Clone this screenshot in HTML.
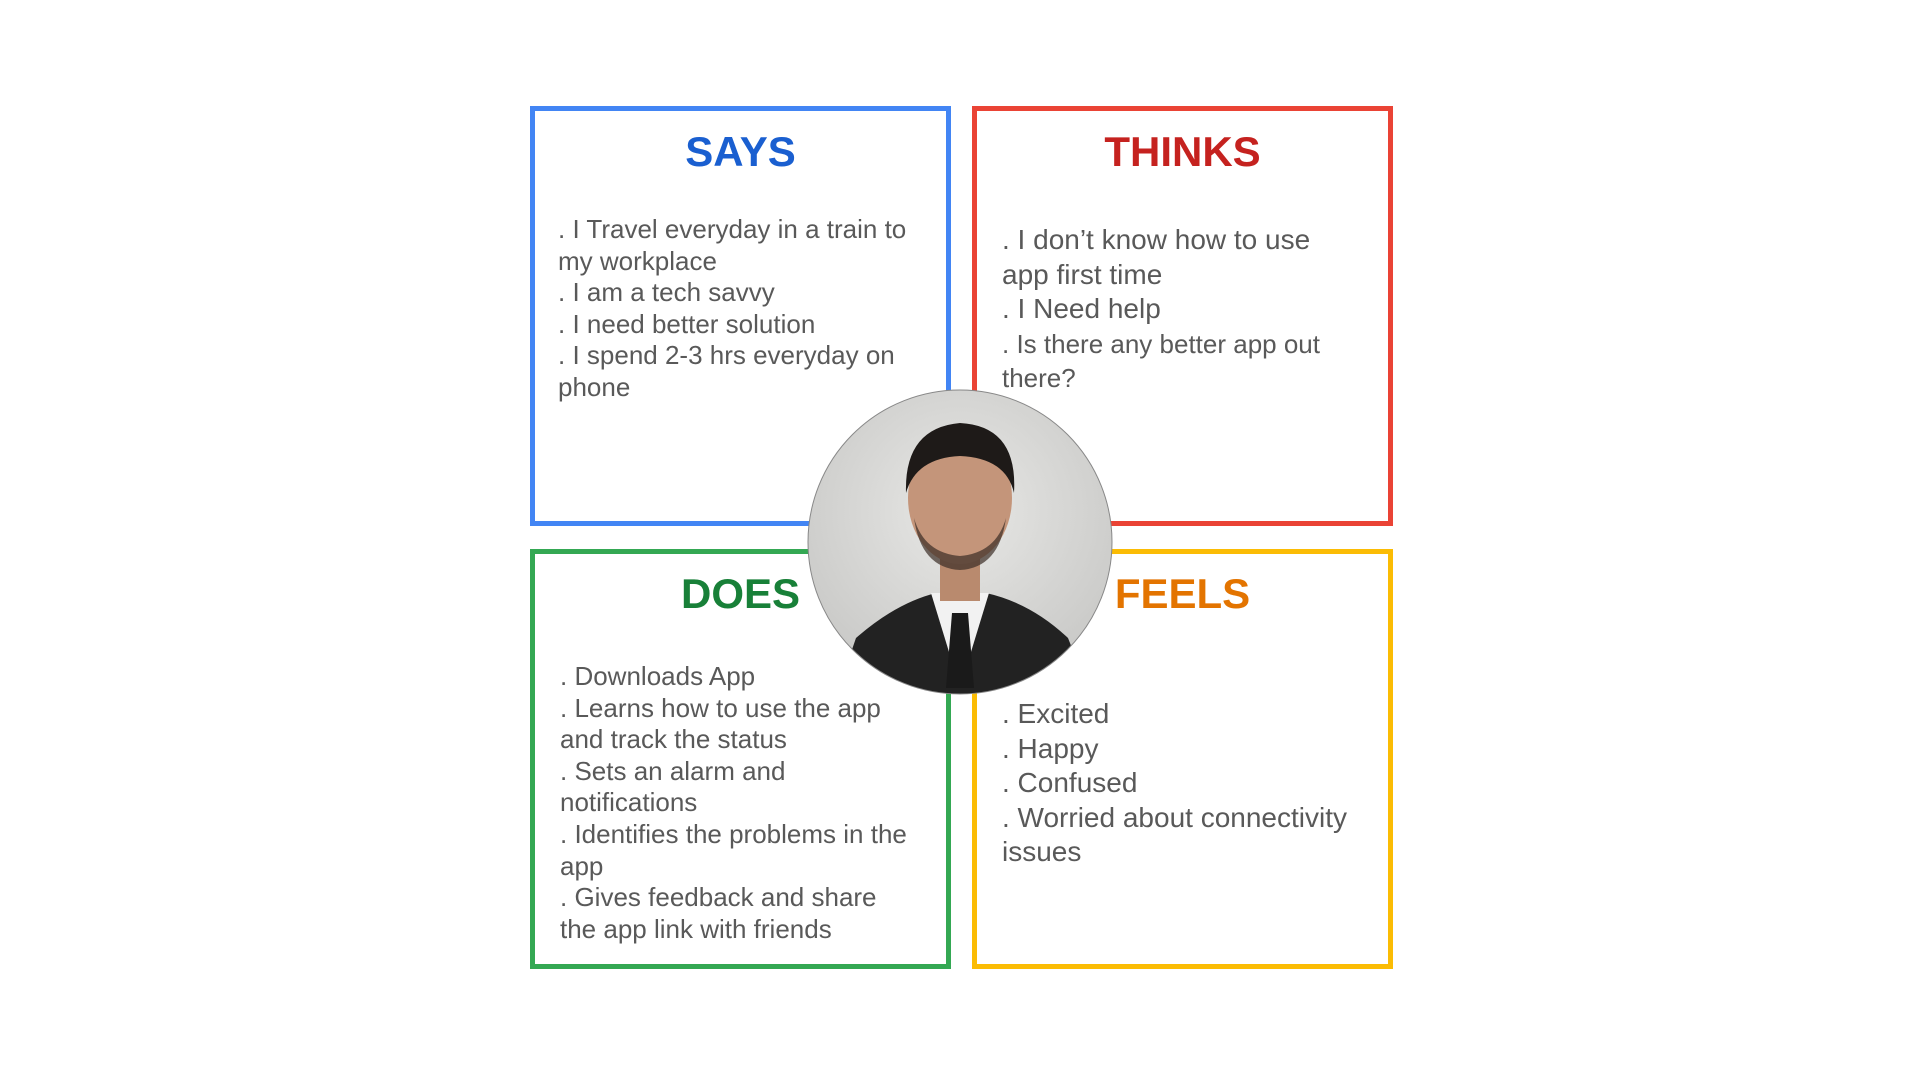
<!DOCTYPE html>
<html><head><meta charset="utf-8"><style>
html,body{margin:0;padding:0;background:#fff;width:1920px;height:1080px;overflow:hidden;font-family:"Liberation Sans",Arial,sans-serif}
.box{position:absolute;width:421px;height:420px;box-sizing:border-box;border:5px solid}
.t{position:absolute;left:0;width:100%;text-align:center;font-weight:bold;font-size:42px}
.txt{position:absolute;color:#595959;white-space:nowrap}
</style></head><body>
<div class="box" style="left:530px;top:106px;border-color:#4285f4"></div>
<div class="box" style="left:972px;top:106px;border-color:#ea4335"></div>
<div class="box" style="left:530px;top:549px;border-color:#34a853"></div>
<div class="box" style="left:972px;top:549px;border-color:#fbbc04"></div>

<div class="t" style="left:530px;width:421px;top:128px;color:#1a5fd0">SAYS</div>
<div class="t" style="left:972px;width:421px;top:128px;color:#c5221f">THINKS</div>
<div class="t" style="left:530px;width:421px;top:570px;color:#188038">DOES</div>
<div class="t" style="left:972px;width:421px;top:570px;color:#e37400">FEELS</div>

<div class="txt" style="left:558px;top:214px;font-size:26px;line-height:31.5px">. I Travel everyday in a train to<br>my workplace<br>. I am a tech savvy<br>. I need better solution<br>. I spend 2-3 hrs everyday on<br>phone</div>
<div class="txt" style="left:1002px;top:223px;font-size:28px;line-height:34.6px">. I don’t know how to use<br>app first time<br>. I Need help<br><span style="font-size:26px">. Is there any better app out<br>there?</span></div>
<div class="txt" style="left:560px;top:661px;font-size:26px;line-height:31.6px">. Downloads App<br>. Learns how to use the app<br>and track the status<br>. Sets an alarm and<br>notifications<br>. Identifies the problems in the<br>app<br>. Gives feedback and share<br>the app link with friends</div>
<div class="txt" style="left:1002px;top:697px;font-size:28px;line-height:34.5px">. Excited<br>. Happy<br>. Confused<br>. Worried about connectivity<br>issues</div>

<svg style="position:absolute;left:806px;top:388px" width="308" height="308" viewBox="0 0 308 308">
<defs><clipPath id="c"><circle cx="154" cy="154" r="152"/></clipPath>
<radialGradient id="bg" cx="50%" cy="40%" r="60%"><stop offset="0" stop-color="#e8e8e6"/><stop offset="1" stop-color="#c9c9c7"/></radialGradient></defs>
<g clip-path="url(#c)">
<rect width="308" height="308" fill="url(#bg)"/>
<path d="M30 308 L50 250 Q90 215 130 205 L180 205 Q225 215 262 250 L285 308 Z" fill="#222"/>
<path d="M125 205 L154 300 L183 205 Z" fill="#f2f2f2"/>
<path d="M146 225 L162 225 L168 300 L140 300 Z" fill="#1a1a1a"/>
<rect x="134" y="165" width="40" height="48" fill="#b98a6e"/>
<ellipse cx="154" cy="110" rx="52" ry="66" fill="#c4957a"/>
<path d="M100 105 Q98 40 154 35 Q212 38 208 105 Q200 70 154 68 Q110 70 100 105 Z" fill="#1e1a18"/>
<path d="M108 130 Q115 180 154 182 Q193 180 200 130 Q190 165 154 168 Q118 165 108 130 Z" fill="#3a2c25" opacity="0.7"/>
</g>
<circle cx="154" cy="154" r="152" fill="none" stroke="#888" stroke-width="1"/>
</svg>
</body></html>
